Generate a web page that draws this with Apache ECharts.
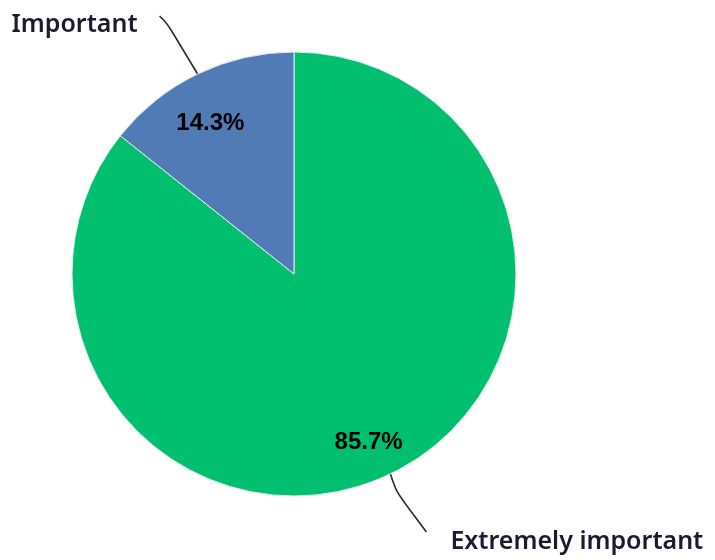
<!DOCTYPE html>
<html>
<head>
<meta charset="utf-8">
<script src="https://cdn.jsdelivr.net/npm/echarts@6/dist/echarts.min.js"></script>
<style>
  html, body { margin: 0; padding: 0; background: #fff; }
  #chart { width: 715px; height: 560px; }
</style>
</head>
<body>
<div id="chart"></div>
<script>
// Survey answers and their shares (percent)
const categories = ['Extremely important', 'Important'];
const shares = [85.7, 14.3];
const sliceColors = ['#00BF6F', '#507BB5'];

const chart = echarts.init(document.getElementById('chart'), null, { renderer: 'canvas' });

const pieData = categories.map((name, i) => ({ name: name, value: shares[i] }));

const CENTER = [294, 274];
const R = 222;

// small nudges for the percentage labels inside the slices
const pctNudge = [[-4, 5], [-5, 12]];

// callout bend and end, relative to where the line leaves the slice edge
const upperPath = [[-33, -55], [-38, -58]];
const lowerPath = [[14, 43], [36, 58]];

function calloutLayout(params) {
  const p0 = params.labelLinePoints ? params.labelLinePoints[0] : null;
  if (!p0) return {};
  const up = p0[1] < CENTER[1];
  const path = (up ? upperPath : lowerPath).map(d => [p0[0] + d[0], p0[1] + d[1]]);
  const end = path[path.length - 1];
  return up
    ? { x: end[0] - 22, y: end[1] + 9, align: 'right', verticalAlign: 'middle',
        labelLinePoints: [p0].concat(path) }
    : { x: end[0] + 24, y: end[1] + 10, align: 'left', verticalAlign: 'middle',
        labelLinePoints: [p0].concat(path) };
}

chart.setOption({
  animation: false,
  color: sliceColors,
  series: [
    {
      type: 'pie',
      center: CENTER,
      radius: R,
      startAngle: 90,
      clockwise: true,
      data: pieData,
      itemStyle: { borderColor: '#e8ecf2', borderWidth: 1 },
      label: {
        show: true,
        position: 'outside',
        formatter: '{b}',
        fontFamily: 'Noto Sans',
        fontWeight: 600,
        fontSize: 25,
        color: '#1b1b2f'
      },
      labelLine: {
        show: true,
        smooth: 1,
        lineStyle: { color: '#2a2a2a', width: 1.6 }
      },
      labelLayout: calloutLayout,
      emphasis: { disabled: true }
    },
    {
      // transparent ring that carries the percentage labels
      type: 'pie',
      center: CENTER,
      radius: [134, R],
      startAngle: 90,
      clockwise: true,
      silent: true,
      data: pieData,
      itemStyle: { color: 'rgba(0,0,0,0)' },
      label: {
        show: true,
        position: 'inside',
        formatter: p => p.value.toFixed(1) + '%',
        fontFamily: 'Liberation Sans, Arial',
        fontWeight: 'bold',
        fontSize: 24,
        color: '#000'
      },
      labelLine: { show: false },
      labelLayout: p => ({ dx: pctNudge[p.dataIndex][0], dy: pctNudge[p.dataIndex][1] }),
      emphasis: { disabled: true }
    }
  ]
});
</script>
</body>
</html>
